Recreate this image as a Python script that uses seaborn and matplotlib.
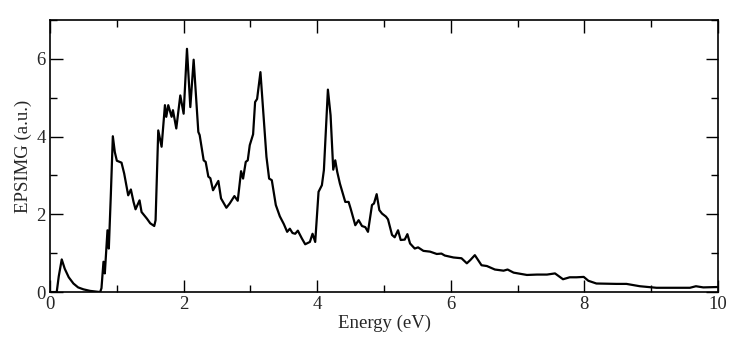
import pandas as pd
import seaborn as sns
import matplotlib.pyplot as plt
from matplotlib.ticker import MultipleLocator

# Imaginary part of dielectric function
energy = [0, 0.10, 0.13, 0.175, 0.22, 0.28, 0.35, 0.42, 0.5, 0.6, 0.7, 0.75,
          0.77, 0.80, 0.82, 0.86, 0.88, 0.91, 0.94, 0.97, 1.0, 1.07, 1.11, 1.17,
          1.21, 1.25, 1.28, 1.34, 1.37, 1.45, 1.50, 1.56, 1.58, 1.62, 1.67, 1.72,
          1.74, 1.77, 1.82, 1.84, 1.89, 1.95, 2.0, 2.05, 2.10, 2.15, 2.22, 2.24,
          2.30, 2.33, 2.37, 2.40, 2.44, 2.52, 2.56, 2.59, 2.64, 2.69, 2.76, 2.81,
          2.86, 2.89, 2.93, 2.96, 2.99, 3.04, 3.07, 3.10, 3.15, 3.19, 3.24, 3.28,
          3.32, 3.38, 3.44, 3.50, 3.55, 3.59, 3.63, 3.67, 3.71, 3.77, 3.82, 3.89,
          3.93, 3.97, 4.02, 4.07, 4.10, 4.16, 4.20, 4.24, 4.27, 4.30, 4.34, 4.42,
          4.47, 4.50, 4.57, 4.62, 4.67, 4.72, 4.76, 4.82, 4.85, 4.89, 4.93, 4.97,
          5.03, 5.06, 5.12, 5.16, 5.21, 5.25, 5.31, 5.35, 5.39, 5.46, 5.51, 5.59,
          5.69, 5.79, 5.86, 5.91, 6.04, 6.16, 6.24, 6.29, 6.36, 6.46, 6.54, 6.66,
          6.79, 6.85, 6.94, 7.14, 7.29, 7.44, 7.56, 7.68, 7.78, 7.88, 7.99, 8.06,
          8.18, 8.48, 8.63, 8.83, 9.08, 9.33, 9.58, 9.67, 9.78, 10.0]
epsimg = [0, 0, 0.40, 0.84, 0.60, 0.38, 0.22, 0.12, 0.07, 0.03, 0.01, 0,
          0.10, 0.78, 0.48, 1.59, 1.12, 2.50, 4.01, 3.60, 3.38, 3.33, 3.05, 2.49,
          2.64, 2.32, 2.13, 2.36, 2.06, 1.89, 1.77, 1.70, 1.85, 4.16, 3.74, 4.81,
          4.51, 4.81, 4.51, 4.68, 4.21, 5.06, 4.59, 6.26, 4.76, 5.98, 4.12, 4.04,
          3.39, 3.35, 2.97, 2.93, 2.62, 2.86, 2.41, 2.32, 2.17, 2.28, 2.47, 2.35,
          3.11, 2.92, 3.35, 3.39, 3.78, 4.06, 4.89, 4.97, 5.66, 4.68, 3.48, 2.92,
          2.88, 2.24, 1.95, 1.75, 1.55, 1.63, 1.52, 1.50, 1.58, 1.38, 1.23, 1.29,
          1.50, 1.29, 2.58, 2.75, 3.14, 5.21, 4.55, 3.15, 3.39, 3.09, 2.79, 2.32,
          2.32, 2.15, 1.72, 1.85, 1.70, 1.67, 1.55, 2.24, 2.28, 2.52, 2.11, 2.02,
          1.94, 1.87, 1.47, 1.41, 1.59, 1.34, 1.35, 1.49, 1.25, 1.12, 1.15, 1.06,
          1.04, 0.98, 0.99, 0.94, 0.89, 0.87, 0.74, 0.82, 0.95, 0.69, 0.67, 0.58,
          0.55, 0.58, 0.50, 0.44, 0.45, 0.45, 0.48, 0.33, 0.38, 0.38, 0.39, 0.29,
          0.22, 0.21, 0.21, 0.15, 0.11, 0.11, 0.11, 0.15, 0.12, 0.13]

data = pd.DataFrame({'Energy': energy, 'EPSIMG': epsimg})

sns.set_style('ticks')
plt.rcParams['font.family'] = ['Liberation Serif', 'DejaVu Serif']

fig = plt.figure(figsize=(7.36, 3.4), dpi=100)
ax = fig.add_axes([0.068, 0.141, 0.9075, 0.8])
sns.lineplot(data=data, x='Energy', y='EPSIMG', color='black', linewidth=1.6,
             sort=False, estimator=None, ax=ax)

ax.set_xlim(0, 10)
ax.set_ylim(0, 7)
ax.xaxis.set_major_locator(MultipleLocator(2))
ax.xaxis.set_minor_locator(MultipleLocator(1))
ax.yaxis.set_major_locator(MultipleLocator(2))
ax.yaxis.set_minor_locator(MultipleLocator(1))
ax.tick_params(which='both', direction='in', top=True, right=True,
               labelsize=13.5, width=1, color='black', pad=3)
ax.tick_params(which='major', length=9)
ax.tick_params(which='minor', length=5)
for s in ax.spines.values():
    s.set_linewidth(1.2)
    s.set_color('black')
ax.set_xlabel('Energy (eV)', fontsize=13.5, labelpad=1)
ax.set_ylabel('EPSIMG (a.u.)', fontsize=13.5, labelpad=3)

plt.savefig('out.png')
plt.close()
